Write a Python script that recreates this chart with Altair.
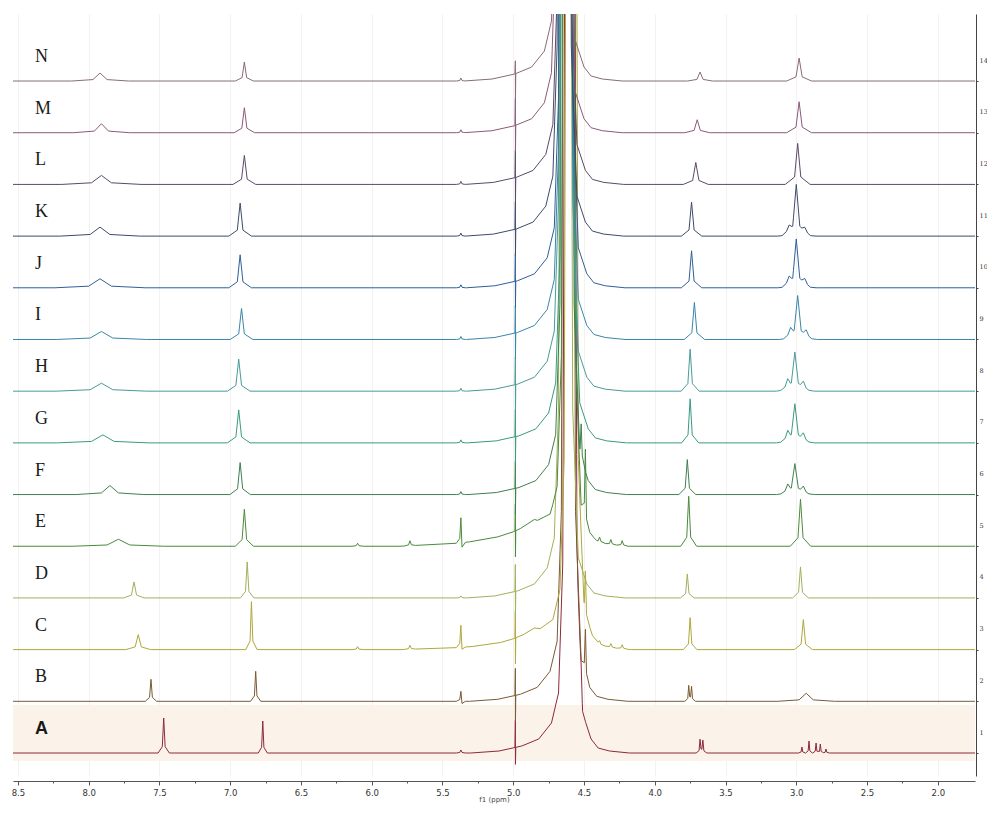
import altair as alt
import numpy as np
import pandas as pd

# ---------------- data ----------------
TRACES = list("ABCDEFGHIJKLMN")
COLORS = ["#8c2a3c", "#7a5a30", "#b0a83a", "#a3b05a", "#4a8a3a", "#3f7f4f", "#3a9a80",
          "#4a9a9a", "#3a86a8", "#2f5f9a", "#3d4a6a", "#5a4a6a", "#8a5a7a", "#8a6a7a"]

X_MAX, X_MIN = 8.535, 1.737
X_MAJOR = [8.5, 8.0, 7.5, 7.0, 6.5, 6.0, 5.5, 5.0, 4.5, 4.0, 3.5, 3.0, 2.5, 2.0]
X_MINOR = [8.25, 7.75, 7.25, 6.75, 6.25, 5.75, 5.25, 4.75, 4.25, 3.75, 3.25, 2.75, 2.25]

# aromatic signal ~7.5-7.9 ppm  (A..N)
P1_POS = [7.47, 7.56, 7.65, 7.68, 7.79, 7.85, 7.90, 7.91, 7.91, 7.92, 7.92, 7.91, 7.91, 7.92]
P1_H = [35, 22, 15, 16, 7, 9, 8, 8, 8, 9, 9, 9, 9, 8]
P1_W = [0.010, 0.010, 0.022, 0.018, 0.08, 0.06, 0.08, 0.08, 0.08, 0.08, 0.07, 0.07, 0.05, 0.05]
# signal ~6.9 ppm
P2_POS = [6.77, 6.82, 6.85, 6.88, 6.90, 6.93, 6.94, 6.94, 6.92, 6.93, 6.93, 6.90, 6.90, 6.90]
P2_H = [32, 30, 48, 36, 37, 32, 33, 32, 31, 33, 33, 29, 25, 19]
P2_W = [0.008, 0.009, 0.010, 0.012, 0.016, 0.018, 0.02, 0.02, 0.02, 0.02, 0.02, 0.02, 0.018, 0.016]
# signal ~3.7 ppm
P3_POS = [3.67, 3.75, 3.75, 3.77, 3.76, 3.77, 3.75, 3.75, 3.72, 3.74, 3.74, 3.71, 3.70, 3.68]
P3_H = [0, 0, 32, 24, 50, 35, 44, 42, 37, 37, 34, 22, 13, 9]
P3_W = [0.01, 0.01, 0.012, 0.012, 0.014, 0.015, 0.015, 0.016, 0.018, 0.018, 0.018, 0.022, 0.022, 0.022]
# signal ~3.0 ppm
P4_POS = [2.95, 2.93, 2.95, 2.97, 2.97, 3.01, 3.01, 3.01, 2.99, 3.00, 3.00, 2.99, 2.98, 2.98]
P4_H = [0, 8, 30, 31, 47, 30, 38, 38, 43, 48, 51, 41, 31, 23]
P4_W = [0.01, 0.05, 0.016, 0.014, 0.018, 0.025, 0.025, 0.025, 0.025, 0.025, 0.025, 0.022, 0.022, 0.022]
P4_SHOULDER = [0, 0, 0, 0, 0, 7, 8, 8, 7, 6, 5, 0, 0, 0]
# small signal ~5.37 ppm (with dispersive dip)
P5_POS = 5.37
P5_H = [3, 10, 22, 2, 25, 3, 3, 3, 3, 3, 3, 3, 3, 3]
P5_DIP = [0, -4, -6, 0, -9, 0, 0, 0, 0, 0, 0, 0, 0, 0]
# artefact at 5.0 ppm
SPIKE_POS = 4.985
SPIKE_UP = [27, 27, 27, 27, 27, 27, 27, 27, 27, 27, 27, 27, 27, 13]
SPIKE_DN = [-17, -26, -26, -26, -26, -26, -26, -26, -26, -26, -26, -26, -26, -26]
# water signal
WATER_C = [4.60, 4.61, 4.59, 4.63, 4.61, 4.62, 4.62, 4.63, 4.63, 4.63, 4.64, 4.64, 4.65, 4.65]
WATER_DX = [0.70, 0.50, 0.34, 0.22, 0.13, 0.08, 0.05, 0.0, -0.05, -0.09, -0.15, -0.20, -0.28, -0.42]
WATER_H = [0, 2, 7, 14, 30, 60, 190, 2500, 190, 40, 14, 5, 2, 0]
# broad hump under water (C and E)
HUMP_X = [5.80, 5.40, 5.00, 4.85, 4.72]
HUMP_H = {"C": [0, 2, 6, 10, 0], "E": [0, 3, 9, 14, 0]}
# extra peaks: trace -> list of (ppm, height, halfwidth, dip)
EXTRA = {
    "A": [(3.68, 13, 0.007, 0), (3.66, 12, 0.007, 0), (2.96, 6, 0.006, 0), (2.91, 12, 0.006, 0),
          (2.86, 10, 0.006, 0), (2.83, 9, 0.006, 0), (2.79, 4, 0.006, 0),
          (4.55, 20, 0.008, 0), (4.52, 10, 0.008, 0)],
    "B": [(3.76, 15, 0.007, 0), (3.74, 14, 0.007, 0), (4.49, 45, 0.008, -4)],
    "C": [(4.49, 43, 0.008, -5), (6.10, 3, 0.01, 0), (5.73, 4, 0.01, 0),
          (4.39, 4, 0.01, 0), (4.31, 4, 0.01, 0), (4.23, 4, 0.01, 0)],
    "E": [(4.49, 70, 0.008, -9), (6.10, 3, 0.01, 0), (5.73, 5, 0.01, 0),
          (4.39, 5, 0.01, 0), (4.31, 5, 0.01, 0), (4.23, 5, 0.01, 0)],
    "F": [(4.52, 35, 0.008, 0)],
}

# ---------------- layout constants ----------------
PLOT_W, PLOT_H = 962, 762
BASE0, STEP = 23, 51.69
PEAK_DX = [4, 1, 0, -1, -4]
PEAK_FR = [0, 0.18, 1, 0.18, 0]


def peak(pos, h, w, dip=0.0):
    xs = [pos + d * w for d in PEAK_DX]
    ys = [f * h for f in PEAK_FR]
    ys[3] += dip
    return xs, ys


rows = []
for i, t in enumerate(TRACES):
    feats = [peak(P1_POS[i], P1_H[i], P1_W[i]),
             peak(P2_POS[i], P2_H[i], P2_W[i]),
             peak(P5_POS, P5_H[i], 0.008, P5_DIP[i])]
    if P3_H[i]:
        feats.append(peak(P3_POS[i], P3_H[i], P3_W[i]))
    if P4_H[i]:
        feats.append(peak(P4_POS[i], P4_H[i], P4_W[i]))
    if P4_SHOULDER[i]:
        feats.append(peak(P4_POS[i] + 0.05, P4_SHOULDER[i], 0.02))
        feats.append(peak(P4_POS[i] - 0.06, P4_SHOULDER[i] * 0.8, 0.02))
    feats.append(([SPIKE_POS + 0.003, SPIKE_POS, SPIKE_POS - 0.0005, SPIKE_POS - 0.003],
                  [0, SPIKE_UP[i], SPIKE_DN[i], 0]))
    feats.append(([WATER_C[i] + d for d in WATER_DX], WATER_H))
    if t in HUMP_H:
        feats.append((HUMP_X, HUMP_H[t]))
    for (p, h, w, dip) in EXTRA.get(t, []):
        feats.append(peak(p, h, w, dip))
    verts = {X_MAX, X_MIN}
    for xs, _ in feats:
        verts.update(round(x, 5) for x in xs)
    verts = np.array(sorted(verts))
    total = np.zeros_like(verts)
    for xs, ys in feats:
        o = np.argsort(xs)
        total += np.interp(verts, np.array(xs)[o], np.array(ys, dtype=float)[o], left=0, right=0)
    base = BASE0 + STEP * i
    for k, (x, v) in enumerate(zip(verts[::-1], total[::-1])):
        rows.append({"trace": t, "ppm": float(x), "y": base + float(v), "i": k})

spec = pd.DataFrame(rows)

labels = pd.DataFrame({"trace": TRACES, "ppm": 8.38,
                       "y": [BASE0 + STEP * i + 24 for i in range(len(TRACES))]})
band = pd.DataFrame({"ppm": [X_MAX], "ppm2": [X_MIN], "y": [BASE0 - 8], "y2": [BASE0 + 48]})

xscale = alt.Scale(domain=[X_MAX, X_MIN], nice=False, zero=False)
yscale = alt.Scale(domain=[0, PLOT_H], nice=False, zero=False)

x_ticks = sorted(X_MAJOR + X_MINOR, reverse=True)
is_major = "round(datum.value*100) % 50 == 0"

x_enc = alt.X("ppm:Q", scale=xscale,
              axis=alt.Axis(values=x_ticks, title="f1 (ppm)", offset=5,
                            labelExpr=f"({is_major}) ? format(datum.value, '.1f') : ''",
                            tickSize={"condition": {"test": is_major, "value": 4}, "value": 2},
                            grid=True,
                            gridOpacity={"condition": {"test": is_major, "value": 1}, "value": 0},
                            gridColor="#f3eeee", gridWidth=0.8,
                            domainColor="#555", tickColor="#555",
                            labelFont="DejaVu Sans", labelFontSize=8.5, labelColor="#333",
                            labelPadding=3, titleFont="DejaVu Sans", titleFontSize=7,
                            titleFontWeight="normal", titleColor="#444", titlePadding=-1))
y_enc = alt.Y("y:Q", scale=yscale,
              axis=alt.Axis(orient="right", values=[BASE0 + STEP * i for i in range(len(TRACES))],
                            labelExpr=f"'' + (round((datum.value - {BASE0}) / {STEP}) + 1)",
                            offset=1, title=None, grid=False, domainColor="#444", tickColor="#444",
                            tickSize=2, labelFont="DejaVu Serif", labelFontSize=6.5, labelColor="#333",
                            labelOffset=-21, labelPadding=1))

band_layer = alt.Chart(band).mark_rect(color="#fbf2ea").encode(x2="ppm2:Q", y2="y2:Q")

lines = alt.Chart(spec).mark_line(clip=True, strokeWidth=1).encode(
    color=alt.Color("trace:N", scale=alt.Scale(domain=TRACES, range=COLORS), legend=None),
    order="i:Q",
    detail="trace:N")

serif_labels = alt.Chart(labels[labels.trace != "A"]).mark_text(
    font="Liberation Serif", fontSize=18, color="#1a1a1a", align="left", baseline="middle"
).encode(text="trace:N")

a_label = alt.Chart(labels[labels.trace == "A"]).mark_text(
    font="Liberation Sans", fontSize=18, fontWeight="bold", color="#1a1a1a", align="left",
    baseline="middle").encode(text="trace:N")

chart = alt.layer(band_layer, lines, serif_labels, a_label).encode(
    x=x_enc, y=y_enc
).properties(
    width=PLOT_W, height=PLOT_H,
    autosize=alt.AutoSizeParams(type="none"),
    padding={"left": 5, "top": 6, "right": 12, "bottom": 29},
    background="white",
).configure_view(strokeWidth=0)

chart.save("out.html", embed_options={"renderer": "svg", "actions": False})
